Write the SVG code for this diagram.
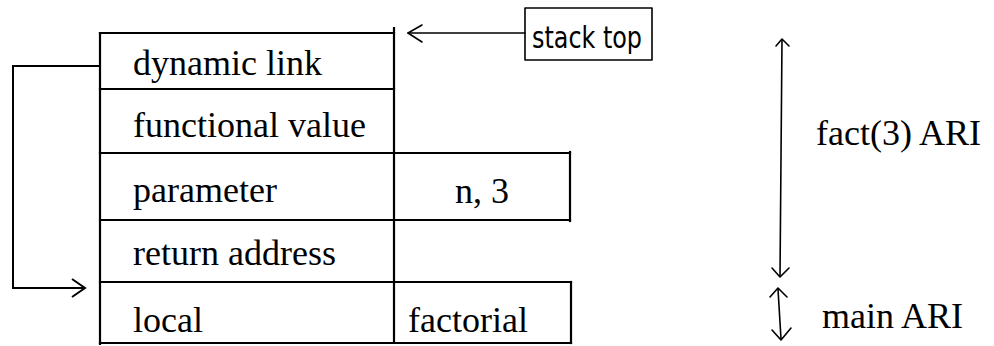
<svg xmlns="http://www.w3.org/2000/svg" width="994" height="346" viewBox="0 0 994 346">
  <style>
    .rule { stroke: #000; stroke-width: 2.2; fill: none; stroke-linecap: square; }
    .wire { stroke: #000; stroke-width: 2; fill: none; }
    .thin { stroke: #000; stroke-width: 1.6; fill: none; stroke-linecap: round; stroke-linejoin: round; }
    .lbl { font-family: "Liberation Serif", "Times New Roman", serif; font-size: 36px; fill: #000; }
    .hand { font-family: "DejaVu Sans", "Noto Sans", sans-serif; font-size: 30px; fill: #000; }
  </style>

  <rect x="0" y="0" width="994" height="346" fill="#fff"/>

  <!-- activation record frame -->
  <g id="frame">
    <line class="rule" x1="100" y1="33" x2="100" y2="344"/>
    <line class="rule" x1="394" y1="28" x2="394" y2="343"/>
    <line class="rule" x1="100" y1="33" x2="394" y2="33"/>
  </g>

  <g id="dynamic-link">
    <line class="rule" x1="100" y1="89" x2="394" y2="89"/>
    <text class="lbl" x="133" y="75">dynamic link</text>
  </g>

  <g id="functional-value">
    <line class="rule" x1="100" y1="153" x2="570" y2="153"/>
    <text class="lbl" x="133" y="137">functional value</text>
  </g>

  <g id="parameter">
    <line class="rule" x1="570" y1="152" x2="570" y2="221"/>
    <line class="rule" x1="100" y1="220" x2="570" y2="220"/>
    <text class="lbl" x="133" y="202">parameter</text>
    <text class="lbl" x="455" y="203">n, 3</text>
  </g>

  <g id="return-address">
    <line class="rule" x1="100" y1="282" x2="571" y2="282"/>
    <text class="lbl" x="133" y="265">return address</text>
  </g>

  <g id="local">
    <line class="rule" x1="571" y1="282" x2="571" y2="343"/>
    <line class="rule" x1="100" y1="343" x2="571" y2="343"/>
    <text class="lbl" x="133" y="332">local</text>
    <text class="lbl" x="408" y="332">factorial</text>
  </g>

  <g id="stack-top">
    <rect class="thin" x="525" y="8" width="127" height="52"/>
    <text class="hand" x="532" y="48" textLength="110" lengthAdjust="spacingAndGlyphs">stack top</text>
  </g>

  <g id="fact3-ari">
    <text class="lbl" x="816" y="145">fact(3) ARI</text>
  </g>

  <g id="main-ari">
    <text class="lbl" x="822" y="328">main ARI</text>
  </g>

  <!-- connectors -->
  <g id="connectors">
    <!-- dynamic link back to the caller's record -->
    <polyline class="wire" points="100,66 13,66 13,288 85,288"/>
    <polyline class="wire" points="72,279 85,288 72,297"/>

    <!-- stack top pointer -->
    <line class="thin" x1="525" y1="33" x2="408" y2="33"/>
    <polyline class="thin" points="422,25 408,33 422,42"/>

    <!-- extent of fact(3) ARI -->
    <line class="thin" x1="782" y1="40" x2="780" y2="276"/>
    <polyline class="thin" points="776,46 782,39 789,46"/>
    <polyline class="thin" points="772,268 780,277 789,268"/>

    <!-- extent of main ARI -->
    <line class="thin" x1="778" y1="289" x2="781" y2="339"/>
    <polyline class="thin" points="770,297 778,288 787,297"/>
    <polyline class="thin" points="772,330 781,340 791,328"/>
  </g>
</svg>
